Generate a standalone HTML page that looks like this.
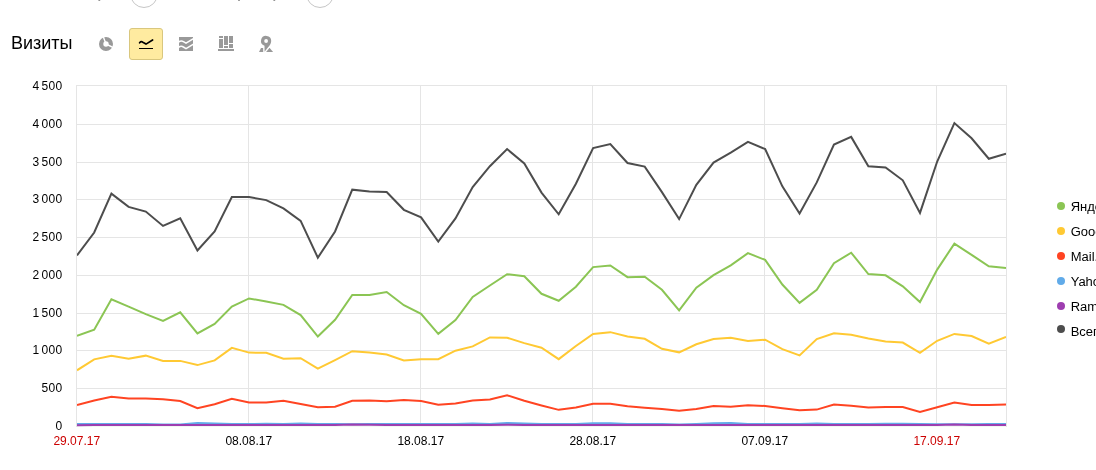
<!DOCTYPE html>
<html lang="ru">
<head>
<meta charset="utf-8">
<title>Визиты</title>
<style>
html,body{margin:0;padding:0;background:#fff;}
body{width:1096px;height:470px;overflow:hidden;position:relative;font-family:"Liberation Sans",Arial,Helvetica,sans-serif;color:#000;}
.ring{position:absolute;top:-20px;width:28px;height:28px;box-sizing:border-box;border:1px solid #c6c6c6;border-radius:50%;}
.title{position:absolute;left:11px;top:32px;font-size:18px;line-height:22px;white-space:nowrap;letter-spacing:0px;}
.btn{position:absolute;left:129px;top:28px;width:34px;height:32px;box-sizing:border-box;background:#ffeba0;border:1px solid #d9c77e;border-radius:3px;}
.icons{position:absolute;left:0;top:0;}
.chart{position:absolute;left:0;top:0;}
.chart text{font-family:"Liberation Sans",Arial,Helvetica,sans-serif;font-size:12px;fill:#000;}
.chart .ylab text{letter-spacing:0.3px;word-spacing:-1.6px;}
.chart .xlab text{letter-spacing:0px;}
.chart .xlab text.wk{fill:#cc0000;}
.chart .leg text{font-size:13.7px;}
</style>
</head>
<body>
<div class="ring" style="left:130px"></div>
<div class="ring" style="left:306px"></div>
<div class="title">Визиты</div>
<div class="btn"></div>
<svg class="icons" width="300" height="70" viewBox="0 0 300 70">
<!-- clipped remnants of the row above -->
<g fill="#8a8a8a">
<rect x="98.4" y="0" width="1.8" height="0.9"/>
<rect x="238.1" y="0" width="1.8" height="0.9"/>
<rect x="273.4" y="0" width="1.8" height="0.9"/>
</g>
<!-- pie -->
<g>
<circle cx="106" cy="44" r="4.85" fill="none" stroke="#999" stroke-width="4.3"/>
<path d="M106 44 L100.2 28.5 M106 44 L121 51.4" stroke="#fff" stroke-width="1.4" fill="none"/>
</g>
<!-- line (selected) -->
<g fill="none" stroke="#000">
<path d="M139.6 42.8 C140.6 41.6 141.8 41.5 142.8 42.2 L146 44.1 L152.6 40" stroke-width="1.7" stroke-linecap="round" stroke-linejoin="round"/>
<path d="M139 48.5 H153" stroke-width="1" shape-rendering="crispEdges"/>
</g>
<!-- area -->
<g>
<rect x="179" y="37" width="14" height="14" fill="#999"/>
<path d="M178.5 42.0 C180.5 40.8 182 40.8 183.4 41.6 L186 43.1 L193.5 38.6" stroke="#fff" stroke-width="1.6" fill="none"/>
<path d="M178.5 47.2 C180.5 46.0 182 46.0 183.4 47.0 L186 48.6 L193.5 44.1" stroke="#fff" stroke-width="1.6" fill="none"/>
</g>
<!-- bars -->
<g fill="#999" shape-rendering="crispEdges">
<rect x="218" y="49" width="16" height="2"/>
<rect x="219" y="36" width="4" height="2"/>
<rect x="219" y="39" width="4" height="9"/>
<rect x="224" y="36" width="4" height="9"/>
<rect x="224" y="46" width="4" height="2"/>
<rect x="229" y="36" width="4" height="7"/>
<rect x="229" y="44" width="4" height="4"/>
</g>
<!-- pin -->
<g>
<polygon points="259,52 261,48 269.7,48 273.1,52" fill="#999"/>
<path d="M264.5 45.8 A5.1 5.1 0 1 1 271.2 41 C271.2 43.8 269.3 46 267.9 47.6 L264.6 51.7 Z M266.1 39.1 A1.9 1.9 0 1 0 266.1 42.9 A1.9 1.9 0 1 0 266.1 39.1 Z" fill="#999" fill-rule="evenodd" stroke="#fff" stroke-width="2.8" stroke-linejoin="round" paint-order="stroke"/>
</g>
</svg>

<svg class="chart" width="1096" height="470" viewBox="0 0 1096 470">
<defs><clipPath id="plot"><rect x="77" y="80" width="929" height="347"/></clipPath></defs>
<g shape-rendering="crispEdges" fill="#e5e5e5">
<rect x="76" y="85" width="931" height="1"/>
<rect x="76" y="124" width="931" height="1"/>
<rect x="76" y="162" width="931" height="1"/>
<rect x="76" y="199" width="931" height="1"/>
<rect x="76" y="237" width="931" height="1"/>
<rect x="76" y="275" width="931" height="1"/>
<rect x="76" y="313" width="931" height="1"/>
<rect x="76" y="350" width="931" height="1"/>
<rect x="76" y="388" width="931" height="1"/>
<rect x="76" y="85" width="1" height="342"/>
<rect x="248" y="85" width="1" height="340"/>
<rect x="420" y="85" width="1" height="340"/>
<rect x="592" y="85" width="1" height="340"/>
<rect x="764" y="85" width="1" height="340"/>
<rect x="936" y="85" width="1" height="340"/>
<rect x="1006" y="85" width="1" height="342"/>
<rect x="77" y="426" width="929" height="1" fill="#f2f6f2"/>
</g>
<g clip-path="url(#plot)" fill="none" stroke-width="2.0" stroke-linejoin="miter" stroke-linecap="butt">
<polyline stroke="#4d4d4d" points="77.00,255.40 94.20,232.50 111.41,193.59 128.61,206.90 145.81,211.55 163.02,225.92 180.22,218.30 197.43,250.44 214.63,231.50 231.83,197.00 249.04,197.00 266.24,200.10 283.44,208.40 300.65,220.90 317.85,257.69 335.06,231.50 352.26,189.66 369.46,191.40 386.67,192.00 403.87,209.80 421.07,217.30 438.28,241.49 455.48,218.40 472.69,187.00 489.89,166.20 507.09,149.10 524.30,163.40 541.50,192.60 558.70,214.33 575.91,183.70 593.11,148.00 610.31,144.07 627.52,163.00 644.72,166.60 661.93,192.10 679.13,219.09 696.33,184.90 713.54,162.55 730.74,152.55 747.94,141.87 765.15,149.10 782.35,186.30 799.56,213.60 816.76,182.40 833.96,144.60 851.17,136.89 868.37,166.30 885.57,167.55 902.78,180.30 919.98,212.92 937.19,161.50 954.39,123.05 971.59,138.30 988.80,158.73 1006.00,153.60"/>
<polyline stroke="#8bc554" points="77.00,335.90 94.20,329.80 111.41,299.29 128.61,306.60 145.81,314.20 163.02,320.94 180.22,312.29 197.43,333.41 214.63,323.90 231.83,306.60 249.04,298.46 266.24,301.40 283.44,304.85 300.65,315.10 317.85,336.53 335.06,319.80 352.26,294.95 369.46,294.95 386.67,292.01 403.87,305.20 421.07,313.90 438.28,333.89 455.48,320.00 472.69,296.95 489.89,285.50 507.09,274.26 524.30,276.30 541.50,293.80 558.70,300.73 575.91,286.70 593.11,267.10 610.31,265.46 627.52,277.15 644.72,276.75 661.93,289.80 679.13,310.46 696.33,287.70 713.54,275.20 730.74,265.30 747.94,253.17 765.15,259.90 782.35,284.50 799.56,302.90 816.76,289.70 833.96,263.20 851.17,252.70 868.37,274.10 885.57,275.30 902.78,286.30 919.98,302.06 937.19,269.60 954.39,243.61 971.59,254.80 988.80,266.30 1006.00,268.00"/>
<polyline stroke="#ffc933" points="77.00,370.30 94.20,359.35 111.41,355.65 128.61,358.85 145.81,355.65 163.02,360.90 180.22,360.90 197.43,365.09 214.63,360.40 231.83,347.86 249.04,352.60 266.24,352.80 283.44,358.65 300.65,358.25 317.85,368.53 335.06,360.05 352.26,351.15 369.46,352.60 386.67,354.50 403.87,360.55 421.07,359.15 438.28,359.20 455.48,350.70 472.69,346.35 489.89,337.45 507.09,337.70 524.30,343.10 541.50,347.70 558.70,359.16 575.91,346.00 593.11,334.00 610.31,332.15 627.52,336.50 644.72,338.80 661.93,348.80 679.13,352.34 696.33,344.30 713.54,339.10 730.74,337.85 747.94,341.05 765.15,339.65 782.35,349.20 799.56,355.43 816.76,339.10 833.96,333.20 851.17,334.80 868.37,338.60 885.57,341.40 902.78,342.60 919.98,352.82 937.19,340.80 954.39,333.90 971.59,336.00 988.80,343.64 1006.00,336.90"/>
<polyline stroke="#ff4422" points="77.00,405.10 94.20,400.50 111.41,396.65 128.61,398.40 145.81,398.50 163.02,399.20 180.22,401.00 197.43,408.24 214.63,404.30 231.83,398.86 249.04,402.50 266.24,402.50 283.44,400.65 300.65,403.90 317.85,407.25 335.06,406.70 352.26,400.80 369.46,400.45 386.67,401.35 403.87,399.95 421.07,401.00 438.28,404.85 455.48,403.40 472.69,400.50 489.89,399.40 507.09,395.26 524.30,400.80 541.50,405.50 558.70,409.85 575.91,407.40 593.11,403.85 610.31,403.75 627.52,406.20 644.72,407.70 661.93,409.10 679.13,410.85 696.33,409.10 713.54,405.95 730.74,406.75 747.94,405.25 765.15,406.00 782.35,408.30 799.56,410.35 816.76,409.60 833.96,404.45 851.17,405.70 868.37,407.55 885.57,407.05 902.78,407.05 919.98,411.94 937.19,407.20 954.39,402.55 971.59,405.00 988.80,405.00 1006.00,404.60"/>
<polyline stroke="#61abe9" points="77.00,424.00 94.20,424.00 111.41,424.00 128.61,424.00 145.81,424.00 163.02,424.50 180.22,424.50 197.43,423.00 214.63,423.60 231.83,424.00 249.04,424.00 266.24,423.75 283.44,424.00 300.65,423.60 317.85,424.00 335.06,424.00 352.26,424.30 369.46,424.00 386.67,424.00 403.87,424.00 421.07,424.00 438.28,424.00 455.48,424.00 472.69,423.40 489.89,424.00 507.09,422.90 524.30,423.60 541.50,424.00 558.70,424.00 575.91,424.00 593.11,423.30 610.31,423.20 627.52,424.00 644.72,424.00 661.93,424.00 679.13,424.60 696.33,424.00 713.54,423.20 730.74,423.10 747.94,424.00 765.15,424.00 782.35,424.00 799.56,424.00 816.76,423.50 833.96,424.00 851.17,424.00 868.37,424.00 885.57,423.70 902.78,423.70 919.98,424.00 937.19,424.20 954.39,424.30 971.59,424.20 988.80,424.00 1006.00,424.00"/>
<polyline stroke="#9e3eb0" points="77.00,425.20 94.20,425.00 111.41,425.00 128.61,425.00 145.81,425.00 163.02,425.00 180.22,425.00 197.43,425.00 214.63,425.00 231.83,425.00 249.04,425.00 266.24,425.00 283.44,425.00 300.65,425.00 317.85,425.00 335.06,425.00 352.26,424.50 369.46,424.70 386.67,425.00 403.87,425.00 421.07,425.00 438.28,425.00 455.48,425.00 472.69,425.00 489.89,425.00 507.09,424.70 524.30,425.00 541.50,425.00 558.70,425.00 575.91,425.00 593.11,425.00 610.31,425.00 627.52,425.00 644.72,425.00 661.93,425.00 679.13,425.00 696.33,425.00 713.54,425.00 730.74,425.00 747.94,425.00 765.15,425.00 782.35,425.00 799.56,425.00 816.76,425.00 833.96,425.00 851.17,425.00 868.37,425.00 885.57,425.00 902.78,425.00 919.98,425.00 937.19,425.00 954.39,424.60 971.59,425.00 988.80,425.00 1006.00,425.00"/>
</g>
<g class="ylab" text-anchor="end">
<text x="62.5" y="89.8">4 500</text>
<text x="62.5" y="127.8">4 000</text>
<text x="62.5" y="165.8">3 500</text>
<text x="62.5" y="202.8">3 000</text>
<text x="62.5" y="240.8">2 500</text>
<text x="62.5" y="278.8">2 000</text>
<text x="62.5" y="316.8">1 500</text>
<text x="62.5" y="353.8">1 000</text>
<text x="62.5" y="391.8">500</text>
<text x="62.5" y="429.8">0</text>
</g>
<g class="xlab" text-anchor="middle">
<text x="76.8" y="445" class="wk">29.07.17</text>
<text x="248.8" y="445">08.08.17</text>
<text x="420.8" y="445">18.08.17</text>
<text x="592.8" y="445">28.08.17</text>
<text x="764.8" y="445">07.09.17</text>
<text x="936.8" y="445" class="wk">17.09.17</text>
</g>
<g class="leg">
<circle cx="1061" cy="206" r="4" fill="#8bc554"/>
<text transform="translate(1070.7 210.8) scale(0.949 1)">Яндекс</text>
<circle cx="1061" cy="231" r="4" fill="#ffc933"/>
<text transform="translate(1070.7 235.8) scale(0.949 1)">Google</text>
<circle cx="1061" cy="256" r="4" fill="#ff4422"/>
<text transform="translate(1070.7 260.8) scale(0.949 1)">Mail.ru</text>
<circle cx="1061" cy="281" r="4" fill="#61abe9"/>
<text transform="translate(1070.7 285.8) scale(0.949 1)">Yahoo!</text>
<circle cx="1061" cy="306" r="4" fill="#9e3eb0"/>
<text transform="translate(1070.7 310.8) scale(0.949 1)">Rambler</text>
<circle cx="1061" cy="329" r="4" fill="#4d4d4d"/>
<text transform="translate(1070.7 335.8) scale(0.949 1)">Всего</text>
</g>
</svg>
</body>
</html>
